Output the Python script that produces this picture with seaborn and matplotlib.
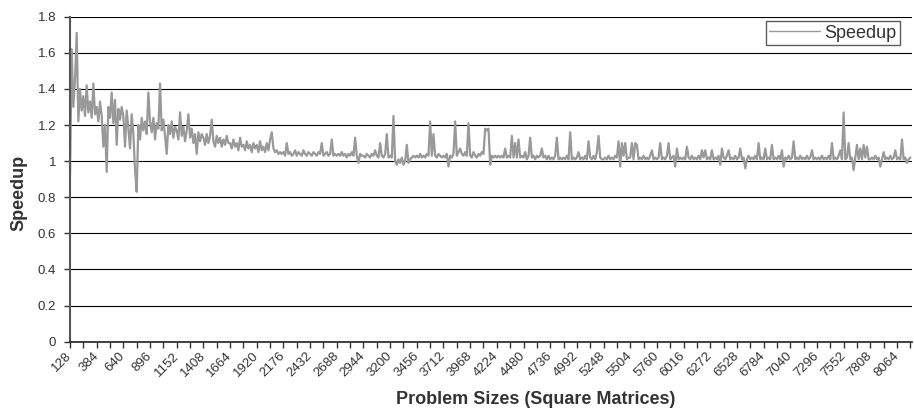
import matplotlib
import numpy as np
import pandas as pd
import seaborn as sns
from matplotlib.ticker import FuncFormatter, MultipleLocator

matplotlib.use("Agg")
import matplotlib.pyplot as plt

# Matrix sizes step by 16, one row below = one labelled interval of 256
size_start = 128
size_step = 16
speedup = [
    0.92, 1.62, 1.30, 1.45, 1.71, 1.22, 1.40, 1.28, 1.36, 1.25, 1.42, 1.27, 1.33, 1.24, 1.43, 1.26,
    1.30, 1.22, 1.33, 1.25, 1.08, 1.20, 0.94, 1.30, 1.24, 1.38, 1.21, 1.34, 1.09, 1.29, 1.23, 1.30,
    1.25, 1.08, 1.28, 1.18, 1.07, 1.26, 1.15, 0.95, 0.83, 1.20, 1.12, 1.24, 1.17, 1.22, 1.15, 1.38,
    1.22, 1.16, 1.24, 1.12, 1.21, 1.18, 1.43, 1.17, 1.23, 1.14, 1.04, 1.20, 1.15, 1.22, 1.13, 1.19,
    1.17, 1.12, 1.27, 1.14, 1.19, 1.11, 1.17, 1.26, 1.13, 1.18, 1.10, 1.15, 1.04, 1.16, 1.11, 1.15,
    1.13, 1.09, 1.15, 1.10, 1.14, 1.23, 1.11, 1.08, 1.14, 1.10, 1.13, 1.08, 1.12, 1.09, 1.14, 1.10,
    1.10, 1.07, 1.12, 1.08, 1.10, 1.06, 1.13, 1.08, 1.09, 1.06, 1.11, 1.07, 1.09, 1.05, 1.10, 1.07,
    1.09, 1.05, 1.11, 1.06, 1.08, 1.05, 1.10, 1.06, 1.12, 1.16, 1.07, 1.05, 1.06, 1.04, 1.05, 1.04,
    1.05, 1.03, 1.10, 1.04, 1.05, 1.03, 1.04, 1.06, 1.03, 1.05, 1.04, 1.03, 1.06, 1.04, 1.03, 1.05,
    1.04, 1.03, 1.05, 1.04, 1.03, 1.05, 1.04, 1.10, 1.03, 1.04, 1.05, 1.03, 1.04, 1.12, 1.03, 1.04,
    1.03, 1.04, 1.03, 1.05, 1.03, 1.04, 1.02, 1.04, 1.03, 1.05, 1.03, 1.13, 1.03, 0.99, 1.04, 1.03,
    1.03, 1.02, 1.04, 1.03, 1.02, 1.04, 1.03, 1.06, 1.03, 1.02, 1.10, 1.03, 1.02, 1.04, 1.15, 1.02,
    1.03, 1.02, 1.25, 1.00, 0.98, 1.01, 0.99, 1.02, 0.98, 1.00, 1.09, 0.99, 1.01, 1.02, 1.03, 1.02,
    1.03, 1.02, 1.04, 1.02, 1.03, 1.02, 1.04, 1.03, 1.22, 1.03, 1.15, 1.03, 1.02, 1.04, 1.03, 1.02,
    1.03, 1.02, 1.04, 0.97, 1.03, 1.02, 1.04, 1.22, 1.03, 1.05, 1.07, 1.04, 1.03, 1.05, 1.03, 1.21,
    1.03, 1.02, 1.05, 1.03, 1.02, 1.04, 1.03, 1.05, 1.04, 1.18, 1.17, 1.18, 0.98, 1.03, 1.02, 1.03,
    1.02, 1.03, 1.02, 1.03, 1.02, 1.07, 1.02, 1.03, 1.02, 1.14, 1.02, 1.10, 1.02, 1.12, 1.02, 1.03,
    1.02, 1.05, 1.01, 1.03, 1.13, 1.02, 1.03, 1.01, 1.03, 1.02, 1.03, 1.07, 1.02, 1.03, 1.01, 1.03,
    1.01, 1.02, 1.01, 1.03, 1.13, 1.01, 1.02, 1.01, 1.02, 1.01, 1.03, 1.01, 1.16, 1.01, 1.02, 1.01,
    1.02, 1.05, 1.01, 1.02, 1.01, 1.03, 1.01, 1.11, 1.02, 1.01, 1.03, 1.01, 1.05, 1.14, 1.02, 1.01,
    1.01, 1.02, 1.01, 1.03, 1.01, 1.02, 1.01, 1.03, 1.02, 1.11, 0.97, 1.10, 1.03, 1.10, 1.01, 1.02,
    1.02, 1.10, 1.01, 1.10, 1.09, 1.01, 1.02, 1.01, 1.03, 1.01, 1.02, 1.01, 1.03, 1.06, 1.01, 1.02,
    1.01, 1.02, 1.10, 1.01, 1.02, 1.01, 1.03, 1.10, 1.01, 1.02, 1.03, 0.97, 1.07, 1.01, 1.02, 1.01,
    1.02, 1.01, 1.08, 1.02, 1.01, 1.03, 1.01, 1.02, 1.01, 1.03, 1.01, 1.06, 1.02, 1.06, 1.01, 1.02,
    1.01, 1.06, 1.01, 1.02, 1.01, 1.03, 0.98, 1.07, 1.02, 1.01, 1.03, 1.06, 1.01, 1.02, 1.01, 1.03,
    1.01, 1.02, 1.07, 1.01, 1.02, 0.96, 1.01, 1.03, 1.01, 1.02, 1.01, 1.03, 1.01, 1.10, 1.01, 1.02,
    1.01, 1.07, 1.01, 1.02, 1.01, 1.09, 1.01, 1.02, 1.01, 1.03, 1.01, 1.06, 0.97, 1.02, 1.01, 1.03,
    1.01, 1.02, 1.11, 1.01, 1.02, 1.01, 1.03, 1.01, 1.02, 1.01, 1.03, 1.01, 1.02, 1.06, 1.01, 1.02,
    1.01, 1.02, 1.01, 1.03, 1.01, 1.02, 1.01, 1.03, 1.01, 1.10, 1.01, 1.02, 1.01, 1.03, 1.06, 1.01,
    1.27, 1.01, 1.02, 1.10, 1.01, 1.02, 0.95, 1.02, 1.09, 1.01, 1.07, 1.01, 1.09, 1.02, 1.08, 1.01,
    1.01, 1.02, 1.01, 1.03, 1.01, 1.02, 0.97, 1.01, 1.05, 1.01, 1.02, 1.01, 1.03, 1.01, 1.02, 1.06,
    1.01, 1.02, 1.01, 1.12, 1.01, 1.02, 0.99, 1.01, 1.02,
]
sizes = size_start + size_step * np.arange(len(speedup))

label_ticks = list(range(128, 8193, 256))
minor_ticks = list(range(256, 8193, 256))

df = pd.DataFrame({"Size": sizes, "Speedup": speedup})

sns.set_style("white")
plt.rcParams["font.family"] = ["Liberation Sans", "DejaVu Sans"]

fig = plt.figure(figsize=(9.14, 4.11), dpi=100)
ax = fig.add_axes([0.0766, 0.1686, 0.9212, 0.7908])

sns.lineplot(data=df, x="Size", y="Speedup", color="#999999", linewidth=1.6,
             label="Speedup", ax=ax)

ax.set_xlim(128, 8208)
ax.set_ylim(0, 1.8)

ax.yaxis.set_major_locator(MultipleLocator(0.2))
ax.yaxis.set_major_formatter(FuncFormatter(lambda v, p: f"{v:g}"))
ax.grid(True, axis="y", color="black", linewidth=0.8)
ax.grid(False, axis="x")
ax.set_axisbelow(True)

ax.set_xticks(label_ticks)
ax.set_xticks(minor_ticks, minor=True)
ax.set_xticklabels([str(t) for t in label_ticks], rotation=45, ha="right",
                   va="center", rotation_mode="anchor")

ax.tick_params(axis="x", which="both", bottom=True, direction="out", length=4,
               width=1, color="#333333", labelsize=9.5, labelcolor="#333333", pad=5)
ax.tick_params(axis="y", left=True, direction="out", length=4, width=1,
               color="#333333", labelsize=9.5, labelcolor="#333333", pad=6)

for side in ["top", "right"]:
    ax.spines[side].set_visible(False)
ax.spines["left"].set_color("#555555")
ax.spines["left"].set_linewidth(1.5)
ax.spines["bottom"].set_color("#222222")
ax.spines["bottom"].set_linewidth(1.2)

ax.set_xlabel("Problem Sizes (Square Matrices)", fontsize=13, fontweight="bold",
              color="#333333")
ax.set_ylabel("Speedup", fontsize=13, fontweight="bold", color="#333333")
ax.xaxis.set_label_coords(0.553, -0.152)
ax.yaxis.set_label_coords(-0.051, 0.4575)

leg = ax.legend(loc="upper right", bbox_to_anchor=(0.9857, 0.9862),
                borderaxespad=0, fontsize=13, frameon=True, fancybox=False,
                handlelength=2.8, handletextpad=0.25, borderpad=0.2)
leg.get_frame().set_edgecolor("#333333")
leg.get_frame().set_linewidth(1.0)
for line in leg.get_lines():
    line.set_linewidth(1.0)
for t in leg.get_texts():
    t.set_color("#333333")

plt.savefig("out.png", dpi=100)
plt.close(fig)
